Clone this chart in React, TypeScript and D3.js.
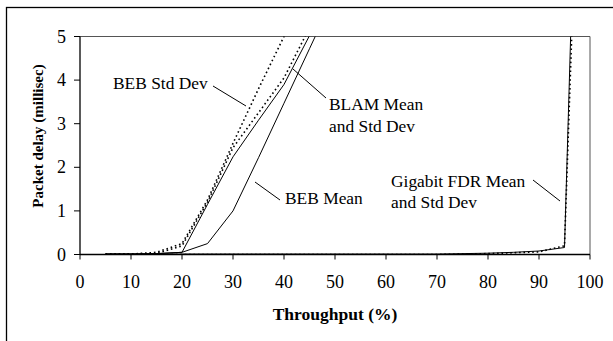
import React from 'react';
import * as d3 from 'd3';

// throughput (%) -> packet delay (millisec)
const throughput = [5, 10, 15, 20, 25, 30, 35, 40, 45, 50];
const bebMean = [0.01, 0.01, 0.02, 0.05, 0.25, 1.0, 2.22, 3.47, 4.72, 5.97];
const bebStd = [0.0, 0.01, 0.05, 0.25, 1.25, 2.55, 3.8, 5.0, 6.2, 7.4];
const blamMean = [0.01, 0.01, 0.02, 0.05, 1.15, 2.24, 3.08, 3.9, 5.02, 6.1];
const blamStd = [0.01, 0.01, 0.02, 0.2, 1.2, 2.45, 3.25, 4.05, 5.2, 6.3];

const fdrX = [5, 10, 20, 30, 40, 50, 60, 70, 80, 85, 90, 95, 97];
const fdrMean = [0.01, 0.01, 0.01, 0.01, 0.01, 0.01, 0.01, 0.01, 0.03, 0.05, 0.08, 0.16, 8.2];
const fdrStd = [0.0, 0.0, 0.0, 0.0, 0.0, 0.0, 0.0, 0.0, 0.02, 0.04, 0.06, 0.2, 7.0];

const xTicks = [0, 10, 20, 30, 40, 50, 60, 70, 80, 90, 100];
const yTicks = [0, 1, 2, 3, 4, 5];

const W = 613;
const H = 341;
const left = 80;
const right = 590;
const top = 36.5;
const bottom = 254.5;
const font = "'Liberation Serif', 'Times New Roman', Times, serif";

const App = () => {
  const x = d3.scaleLinear().domain([0, 100]).range([left, right]);
  const y = d3.scaleLinear().domain([0, 5]).range([bottom, top]);

  const line = d3
    .line<[number, number]>()
    .x((d) => x(d[0]))
    .y((d) => y(d[1]));

  const pts = (xs: number[], ys: number[]) => xs.map((v, i) => [v, ys[i]] as [number, number]);

  const series = [
    { d: pts(throughput, bebMean), dotted: false },
    { d: pts(throughput, bebStd), dotted: true },
    { d: pts(throughput, blamMean), dotted: false },
    { d: pts(throughput, blamStd), dotted: true },
    { d: pts(fdrX, fdrMean), dotted: false },
    { d: pts(fdrX, fdrStd), dotted: true },
  ];

  const txt = { fontSize: 18, fill: '#000' };
  const note = { fontSize: 17.4, fill: '#000' };

  return (
    <svg
      width={W}
      height={H}
      style={{ position: 'absolute', left: 0, top: 0, background: '#fff', fontFamily: font }}
    >
      <rect x={6.5} y={7.5} width={700} height={400} fill="#fff" stroke="#000" strokeWidth={1.3} />
      <defs>
        <clipPath id="plot">
          <rect x={left} y={top} width={right - left} height={bottom - top} />
        </clipPath>
      </defs>
      {/* plot area border */}
      <path d={`M${left},${top}H${right}V${bottom}`} fill="none" stroke="#555" strokeWidth={1} />

      <g clipPath="url(#plot)">
        {series.map((s, i) => (
          <path
            key={i}
            d={line(s.d) || ''}
            fill="none"
            stroke="#000"
            strokeWidth={s.dotted ? 1.6 : 1}
            strokeDasharray={s.dotted ? '1.6,2.8' : undefined}
          />
        ))}
      </g>

      {/* axes */}
      <line x1={left} x2={left} y1={top} y2={bottom} stroke="#000" strokeWidth={1.3} />
      <line x1={left} x2={right} y1={bottom} y2={bottom} stroke="#000" strokeWidth={1.3} />
      {yTicks.map((t) => (
        <g key={'y' + t}>
          <line x1={left - 6} x2={left} y1={y(t)} y2={y(t)} stroke="#000" strokeWidth={1} />
          <text x={66} y={y(t) + 6} textAnchor="end" {...txt}>
            {t}
          </text>
        </g>
      ))}
      {xTicks.map((t) => (
        <g key={'x' + t}>
          <line x1={x(t)} x2={x(t)} y1={bottom} y2={bottom + 5} stroke="#000" strokeWidth={1} />
          <text x={x(t)} y={288} textAnchor="middle" {...txt}>
            {t}
          </text>
        </g>
      ))}

      <text x={(left + right) / 2} y={320} textAnchor="middle" {...txt} fontSize={17.5} fontWeight="bold">
        Throughput (%)
      </text>
      <text transform={`translate(43,136) rotate(-90)`} textAnchor="middle" {...txt} fontSize={15} fontWeight="bold">
        Packet delay (millisec)
      </text>

      {/* annotations */}
      <text x={113} y={89} {...note}>BEB Std Dev</text>
      <line x1={213} y1={86} x2={246} y2={106} stroke="#000" strokeWidth={1} />

      <text x={329} y={110} {...note}>BLAM Mean</text>
      <text x={329} y={132} {...note}>and Std Dev</text>
      <line x1={293} y1={69} x2={326} y2={98} stroke="#000" strokeWidth={1} />

      <text x={285} y={204} {...note}>BEB Mean</text>
      <line x1={255} y1={182} x2={280} y2={200} stroke="#000" strokeWidth={1} />

      <text x={391} y={187} {...note}>Gigabit FDR Mean</text>
      <text x={391} y={208} {...note}>and Std Dev</text>
      <line x1={533} y1={180} x2={560} y2={201} stroke="#000" strokeWidth={1} />
    </svg>
  );
};

export default App;
